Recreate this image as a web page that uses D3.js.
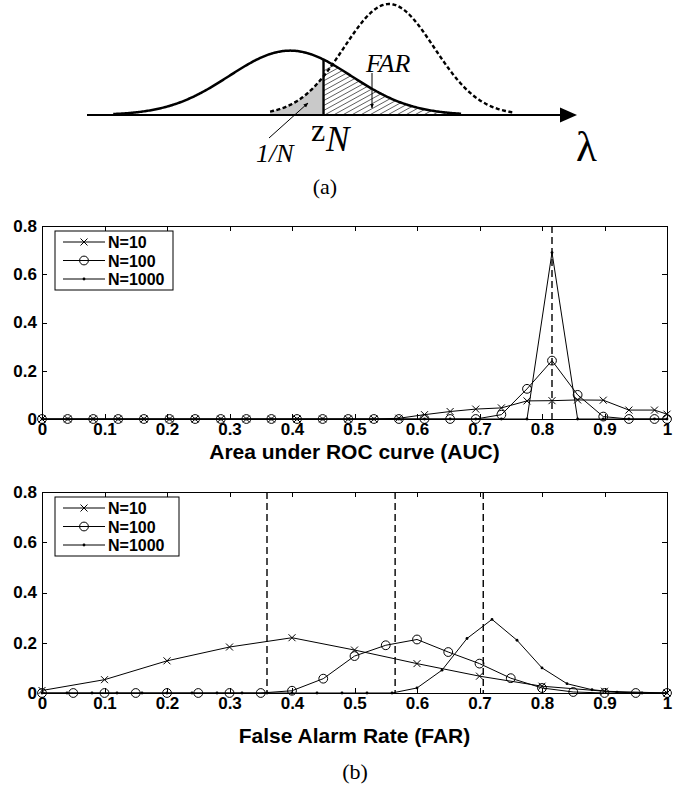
<!DOCTYPE html>
<html>
<head>
<meta charset="utf-8">
<script src="https://cdn.jsdelivr.net/npm/d3@7"></script>
<style>
  body { margin: 0; background: #fff; }
  .ax path, .ax line { stroke: #000; stroke-width: 1; shape-rendering: crispEdges; }
  .ax text { font: bold 17px "Liberation Sans", Arial, sans-serif; fill: #000; }
  .lbl { font: bold 21px "Liberation Sans", Arial, sans-serif; }
  .leg { font: bold 16px "Liberation Sans", Arial, sans-serif; }
  .serif { font-family: "Liberation Serif", "Times New Roman", serif; }
</style>
</head>
<body>
<svg id="fig" width="681" height="789"></svg>
<script>
// ---- data ----
const xTicks = [0, 0.1, 0.2, 0.3, 0.4, 0.5, 0.6, 0.7, 0.8, 0.9, 1];
const yTicks = [0, 0.2, 0.4, 0.6, 0.8];
const seriesNames = ['N=10', 'N=100', 'N=1000'];

// (b) upper: AUC histogram, all three on one grid
const aucX = [0, 0.041, 0.082, 0.122, 0.163, 0.204, 0.245, 0.286, 0.327, 0.367, 0.408, 0.449, 0.49,
              0.531, 0.571, 0.612, 0.653, 0.694, 0.735, 0.776, 0.816, 0.857, 0.898, 0.939, 0.98, 1.0];
const aucN10   = [0, 0, 0, 0, 0, 0, 0, 0, 0, 0, 0, 0, 0,
                  0, 0.003, 0.018, 0.031, 0.041, 0.046, 0.075, 0.076, 0.079, 0.078, 0.037, 0.037, 0.02];
const aucN100  = [0, 0, 0, 0, 0, 0, 0, 0, 0, 0, 0, 0, 0,
                  0, 0, 0, 0, 0, 0.018, 0.125, 0.242, 0.10, 0.01, 0, 0, 0];
const aucN1000 = [0, 0, 0, 0, 0, 0, 0, 0, 0, 0, 0, 0, 0,
                  0, 0, 0, 0, 0, 0, 0, 0.69, 0, 0, 0, 0, 0];
const aucRefs = [0.816];

// (b) lower: FAR histogram, each N on its own grid
const farX10   = [0, 0.1, 0.2, 0.3, 0.4, 0.5, 0.6, 0.7, 0.8, 0.9, 1.0];
const farN10   = [0.01, 0.053, 0.128, 0.183, 0.22, 0.171, 0.117, 0.067, 0.027, 0.007, 0];
const farX100  = [0, 0.05, 0.1, 0.15, 0.2, 0.25, 0.3, 0.35, 0.4, 0.45, 0.5, 0.55, 0.6, 0.65,
                  0.7, 0.75, 0.8, 0.85, 0.9, 0.95, 1.0];
const farN100  = [0, 0, 0, 0, 0, 0, 0, 0, 0.009, 0.057, 0.147, 0.19, 0.213, 0.163,
                  0.117, 0.059, 0.02, 0.004, 0, 0, 0];
const farX1000 = [0, 0.04, 0.08, 0.12, 0.16, 0.2, 0.24, 0.28, 0.32, 0.36, 0.4, 0.44, 0.48,
                  0.52, 0.56, 0.6, 0.64, 0.68, 0.72, 0.76, 0.8, 0.84, 0.88, 0.92, 0.96, 1.0];
const farN1000 = [0, 0, 0, 0, 0, 0, 0, 0, 0, 0, 0, 0, 0,
                  0, 0, 0.02, 0.091, 0.217, 0.293, 0.21, 0.10, 0.037, 0.013, 0.003, 0, 0];
const farRefs = [0.36, 0.565, 0.706];

// (a) schematic: two bell curves, threshold z_N
const curveMu = [0, 1.62];
const curveSd = [1, 0.74];
const curvePeak = [0.58, 1.0];
const curveSpan = [[-2.9, 2.8], [-0.33, 3.66]];
const zN = 0.546;

const svg = d3.select('#fig');

// ---------- (a) ----------
const lx = d3.scaleLinear().domain([-3.33, 4.70]).range([87, 577]);
const ly = d3.scaleLinear().domain([0, 1]).range([115, 4]);
const bell = (l, i) => curvePeak[i] * Math.exp(-0.5 * Math.pow((l - curveMu[i]) / curveSd[i], 2));
const samples = (a, b) => d3.range(a, b, 0.02).concat([b]);

const defs = svg.append('defs');
defs.append('marker').attr('id', 'tip')
    .attr('viewBox', '0 0 10 10').attr('refX', 9).attr('refY', 5)
    .attr('markerWidth', 5).attr('markerHeight', 5).attr('orient', 'auto')
  .append('path').attr('d', 'M0,1L10,5L0,9Z').attr('fill', '#000');

const solidArea = d3.area().x(l => lx(l)).y0(ly(0)).y1(l => ly(bell(l, 0)));
const dashArea  = d3.area().x(l => lx(l)).y0(ly(0)).y1(l => ly(bell(l, 1)));

defs.append('clipPath').attr('id', 'farClip')
  .append('path').attr('d', solidArea(samples(zN, curveSpan[0][1])));

// gray 1/N region
svg.append('path').attr('d', dashArea(samples(curveSpan[1][0], zN)))
    .attr('fill', '#c9c9c9');

// hatch of FAR region
const hatch = svg.append('g').attr('clip-path', 'url(#farClip)');
d3.range(lx(zN) - 80, lx(curveSpan[0][1]) + 10, 9).forEach(x0 => {
  hatch.append('line')
      .attr('x1', x0).attr('y1', ly(0))
      .attr('x2', x0 + 120).attr('y2', ly(0) - 66)
      .attr('stroke', '#333').attr('stroke-width', 0.8);
});

// baseline + arrow
svg.append('line').attr('x1', 87).attr('x2', 562).attr('y1', ly(0)).attr('y2', ly(0))
    .attr('stroke', '#000').attr('stroke-width', 2.2);
svg.append('path').attr('d', `M560,${ly(0) - 7.5}L577,${ly(0)}L560,${ly(0) + 7.5}Z`).attr('fill', '#000');

const curve = i => d3.line().x(l => lx(l)).y(l => ly(bell(l, i)))(samples(curveSpan[i][0], curveSpan[i][1]));
svg.append('path').attr('d', curve(1)).attr('fill', 'none')
    .attr('stroke', '#000').attr('stroke-width', 2.4).attr('stroke-dasharray', '4,2.5');
svg.append('path').attr('d', curve(0)).attr('fill', 'none')
    .attr('stroke', '#000').attr('stroke-width', 2.5);

// threshold line
svg.append('line').attr('x1', lx(zN)).attr('x2', lx(zN))
    .attr('y1', ly(0)).attr('y2', ly(bell(zN, 0)))
    .attr('stroke', '#000').attr('stroke-width', 2.4);

// pointers
svg.append('line').attr('x1', 372).attr('y1', 73).attr('x2', 372).attr('y2', 108)
    .attr('stroke', '#000').attr('stroke-width', 1).attr('marker-end', 'url(#tip)');
svg.append('line').attr('x1', 269).attr('y1', 138).attr('x2', 308).attr('y2', 103)
    .attr('stroke', '#000').attr('stroke-width', 1).attr('marker-end', 'url(#tip)');

svg.append('text').attr('class', 'serif').attr('x', 366).attr('y', 72)
    .style('font-size', '26px').style('font-style', 'italic').text('FAR');
svg.append('text').attr('class', 'serif').attr('x', 256).attr('y', 162)
    .style('font-size', '26px').style('font-style', 'italic').text('1/N');
svg.append('text').attr('class', 'serif').attr('x', 311).attr('y', 141)
    .style('font-size', '32px').text('z');
svg.append('text').attr('class', 'serif').attr('x', 326).attr('y', 151)
    .style('font-size', '35px').style('font-style', 'italic').text('N');
svg.append('text').attr('class', 'serif').attr('x', 576).attr('y', 161)
    .style('font-size', '43px').text('λ');
svg.append('text').attr('class', 'serif').attr('x', 325).attr('y', 194)
    .attr('text-anchor', 'middle').style('font-size', '22px').text('(a)');

// ---------- (b) ----------
function marker(g, type, cx, cy) {
  if (type === 'x') {
    g.append('path').attr('d', `M${cx - 3.5},${cy - 3.5}L${cx + 3.5},${cy + 3.5}M${cx - 3.5},${cy + 3.5}L${cx + 3.5},${cy - 3.5}`)
        .attr('stroke', '#000').attr('stroke-width', 1).attr('fill', 'none');
  } else if (type === 'o') {
    g.append('circle').attr('cx', cx).attr('cy', cy).attr('r', 4.4)
        .attr('fill', 'none').attr('stroke', '#000').attr('stroke-width', 1);
  } else {
    g.append('circle').attr('cx', cx).attr('cy', cy).attr('r', 1.4).attr('fill', '#000');
  }
}

function drawPlot(top, bottom, series, refs, xlabel, labelY, legW) {
  const left = 42, right = 667;
  const x = d3.scaleLinear().domain([0, 1]).range([left, right]);
  const y = d3.scaleLinear().domain([0, 0.8]).range([bottom, top]);
  const g = svg.append('g');
  const fmt = d3.format('~g');

  g.append('g').attr('class', 'ax').attr('transform', `translate(0,${bottom})`)
      .call(d3.axisBottom(x).tickValues(xTicks).tickFormat(fmt).tickSize(-5).tickPadding(4));
  g.append('g').attr('class', 'ax').attr('transform', `translate(0,${top})`)
      .call(d3.axisTop(x).tickValues(xTicks).tickFormat('').tickSize(-5));
  g.append('g').attr('class', 'ax').attr('transform', `translate(${left},0)`)
      .call(d3.axisLeft(y).tickValues(yTicks).tickFormat(fmt).tickSize(-5).tickPadding(5));
  g.append('g').attr('class', 'ax').attr('transform', `translate(${right},0)`)
      .call(d3.axisRight(y).tickValues(yTicks).tickFormat('').tickSize(-5));

  refs.forEach(r => {
    g.append('line').attr('x1', x(r)).attr('x2', x(r)).attr('y1', top).attr('y2', bottom)
        .attr('stroke', '#000').attr('stroke-width', 1.4).attr('stroke-dasharray', '7,4');
  });

  const line = d3.line().x(d => x(d[0])).y(d => y(d[1]));
  series.forEach(s => {
    const pts = s.x.map((v, i) => [v, s.y[i]]);
    g.append('path').attr('d', line(pts)).attr('fill', 'none')
        .attr('stroke', '#000').attr('stroke-width', 1);
    pts.forEach(p => marker(g, s.marker, x(p[0]), y(p[1])));
  });

  // legend
  const lgX = 55, lgY = top + 5, rowH = 18.5;
  const lg = g.append('g');
  lg.append('rect').attr('x', lgX).attr('y', lgY).attr('width', legW).attr('height', 59)
      .attr('fill', '#fff').attr('stroke', '#000').attr('stroke-width', 1);
  series.forEach((s, i) => {
    const yy = lgY + 11 + i * rowH;
    lg.append('line').attr('x1', lgX + 8).attr('x2', lgX + 50).attr('y1', yy).attr('y2', yy)
        .attr('stroke', '#000').attr('stroke-width', 1);
    marker(lg, s.marker, lgX + 29, yy);
    lg.append('text').attr('class', 'leg').attr('x', lgX + 53).attr('y', yy + 6).text(s.name);
  });

  g.append('text').attr('class', 'lbl').attr('x', (left + right) / 2).attr('y', labelY)
      .attr('text-anchor', 'middle').text(xlabel);
}

drawPlot(226, 419, [
  { name: seriesNames[0], x: aucX, y: aucN10, marker: 'x' },
  { name: seriesNames[1], x: aucX, y: aucN100, marker: 'o' },
  { name: seriesNames[2], x: aucX, y: aucN1000, marker: '.' }
], aucRefs, 'Area under ROC curve (AUC)', 459, 118);

drawPlot(492, 693, [
  { name: seriesNames[0], x: farX10, y: farN10, marker: 'x' },
  { name: seriesNames[1], x: farX100, y: farN100, marker: 'o' },
  { name: seriesNames[2], x: farX1000, y: farN1000, marker: '.' }
], farRefs, 'False Alarm Rate (FAR)', 743, 124);

svg.append('text').attr('class', 'serif').attr('x', 355).attr('y', 779)
    .attr('text-anchor', 'middle').style('font-size', '22px').text('(b)');
</script>
</body>
</html>
